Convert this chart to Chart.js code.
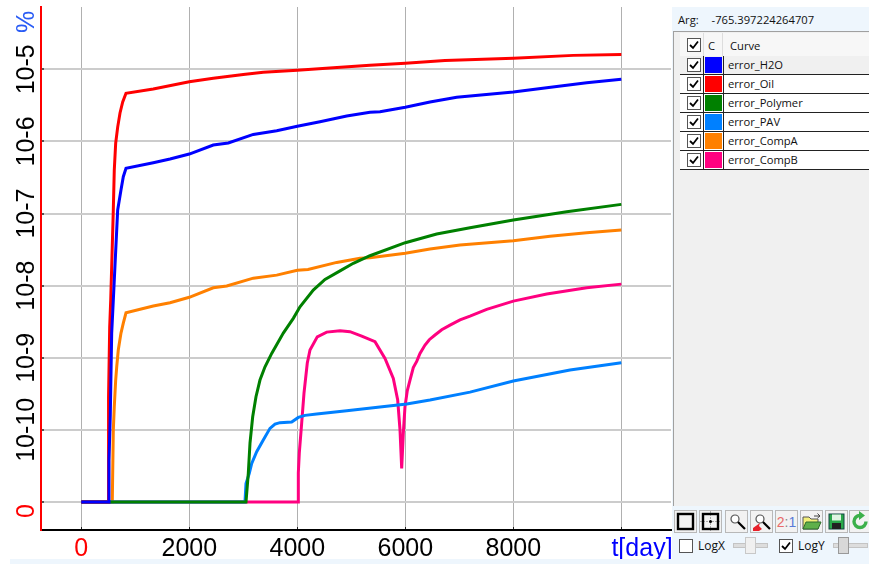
<!DOCTYPE html>
<html>
<head>
<meta charset="utf-8">
<title>error curves</title>
<script src="https://cdn.jsdelivr.net/npm/chart.js@4"></script>
<style>
  html, body { margin: 0; padding: 0; background: #fff; overflow: hidden; }
  body { width: 869px; height: 564px; position: relative; font-family: "Open Sans", sans-serif; font-size: 11.2px; color: #111; }
  #chartBox { position: absolute; left: 0; top: 0; width: 672px; height: 559px; }
  #bottomStrip { position: absolute; left: 10px; top: 559px; width: 662px; height: 5px; background: #eef6fd; }
  #panel { position: absolute; left: 672px; top: 7px; width: 197px; height: 557px; background: #eef6fd; }
  #argRow { position: absolute; left: 6px; top: 5px; white-space: nowrap; }
  #argRow span { margin-left: 10px; }
  #listBox { position: absolute; left: 1px; top: 24px; width: 196px; height: 475px; background: #f0f0f0; border-left: 1px solid #a0a0a0; border-top: 1px solid #a0a0a0; box-sizing: border-box; }
  .row { position: absolute; left: 6px; width: 190px; height: 19px; background: #fff; border-bottom: 1px solid #222; box-sizing: border-box; }
  .row.head { height: 23px; top: 1px; background: #f7f7f7; border-bottom: none; }
  .row .chk { position: absolute; left: 7px; top: 2px; }
  .row.head .chk { top: 5px; }
  .row .vline { position: absolute; top: 0; bottom: 0; width: 1px; background: #222; }
  .row.head .vline { background: #ddd; }
  .row .swatch { position: absolute; left: 25px; top: 1px; width: 17px; height: 16px; }
  .row .name { position: absolute; left: 48px; top: 1px; white-space: nowrap; }
  .chk { width: 12px; height: 12px; border: 1px solid #555; background: #fff; display: block; }
  .btn { position: absolute; top: 503px; width: 23px; height: 23px; background: #f2f2f2; border: 1px solid #b8b8b8; box-sizing: border-box; text-align: center; overflow: hidden; }
  .btn svg { display: block; }
  .lab { position: absolute; top: 530px; font-size: 12px; }
  .slider { position: absolute; top: 536px; width: 35px; height: 5px; background: #ddd; border: 1px solid #c4c4c4; box-sizing: border-box; }
  .thumb { position: absolute; top: -7px; width: 11px; height: 17px; background: #f0f0f0; border: 1px solid #c8c8c8; box-sizing: border-box; }
</style>
</head>
<body>
<div id="chartBox"><canvas id="errChart" width="672" height="559"></canvas></div>
<div id="bottomStrip"></div>
<div id="panel">
  <div id="argRow">Arg: <span>-765.397224264707</span></div>
  <div id="listBox"></div>
  <div id="tools"></div>
  <div id="logRow"></div>
</div>

<script>
// --- DATOS ---
// el "0" del eje log está dibujado en 1e-11
const curveNames = ["error_H2O", "error_Oil", "error_Polymer", "error_PAV", "error_CompA", "error_CompB"];
const curveColors = ["#0000ff", "#ff0000", "#008000", "#0080ff", "#ff8000", "#ff0080"];

const daysH2O = [0, 500, 513, 537, 563, 593, 674, 735, 778, 828, 1333, 1643, 2000, 2444, 2722, 3185, 3619, 4000, 4420, 4915, 5346, 5531, 6000, 6457, 6952, 8000, 8619, 9359, 10000];
const errH2O = [1e-11, 1e-11, 3.81e-11, 1.6e-10, 2.2e-9, 6.3e-9, 1.12e-7, 2.12e-7, 3.24e-7, 4.24e-7, 5.07e-7, 5.7e-7, 6.68e-7, 8.91e-7, 9.5e-7, 1.25e-6, 1.41e-6, 1.62e-6, 1.87e-6, 2.25e-6, 2.53e-6, 2.58e-6, 2.97e-6, 3.52e-6, 4.09e-6, 4.84e-6, 5.56e-6, 6.52e-6, 7.26e-6];

const daysOil = [0, 495, 500, 510, 526, 545, 593, 611, 637, 674, 717, 767, 828, 1333, 2000, 2444, 3000, 3370, 4000, 4667, 5346, 6000, 6735, 8000, 9111, 10000];
const errOil = [1e-11, 1e-11, 1.46e-11, 2.85e-10, 2.67e-9, 6.3e-9, 1.12e-7, 4.01e-7, 9.5e-7, 1.58e-6, 2.48e-6, 3.52e-6, 4.65e-6, 5.33e-6, 6.73e-6, 7.5e-6, 8.5e-6, 9.1e-6, 9.7e-6, 1.05e-5, 1.14e-5, 1.21e-5, 1.32e-5, 1.42e-5, 1.56e-5, 1.61e-5];

const daysPolymer = [0, 3050, 3093, 3124, 3174, 3235, 3309, 3402, 3526, 3741, 3926, 4050, 4296, 4513, 4791, 5037, 5346, 6000, 6581, 7198, 8000, 8989, 10000];
const errPolymer = [1e-11, 1e-11, 2.52e-11, 6.56e-11, 1.52e-10, 2.88e-10, 4.91e-10, 7.5e-10, 1.15e-9, 2.2e-9, 3.52e-9, 5.09e-9, 8.69e-9, 1.22e-8, 1.6e-8, 2.04e-8, 2.6e-8, 3.94e-8, 5.2e-8, 6.35e-8, 8.13e-8, 1.06e-7, 1.34e-7];

const daysPAV = [0, 3031, 3050, 3111, 3156, 3248, 3370, 3494, 3587, 3680, 3896, 4019, 4143, 4359, 4915, 5531, 6026, 6457, 7198, 8000, 9050, 10000];
const errPAV = [1e-11, 1e-11, 1.81e-11, 2.49e-11, 3.43e-11, 4.97e-11, 7.22e-11, 1.05e-10, 1.2e-10, 1.26e-10, 1.29e-10, 1.49e-10, 1.59e-10, 1.66e-10, 1.84e-10, 2.07e-10, 2.28e-10, 2.59e-10, 3.34e-10, 4.75e-10, 6.75e-10, 8.53e-10];

const daysCompA = [0, 574, 593, 611, 637, 656, 685, 735, 778, 828, 1333, 1643, 2000, 2444, 2693, 3185, 3619, 4000, 4198, 4730, 5161, 5346, 6000, 6457, 7013, 8000, 8680, 9359, 10000];
const errCompA = [1e-11, 1e-11, 9.93e-11, 2.09e-10, 4.91e-10, 7.5e-10, 1.28e-9, 2.2e-9, 3.03e-9, 4.21e-9, 5.21e-9, 5.79e-9, 6.89e-9, 9.35e-9, 9.87e-9, 1.27e-8, 1.4e-8, 1.63e-8, 1.68e-8, 2.1e-8, 2.39e-8, 2.44e-8, 2.81e-8, 3.22e-8, 3.66e-8, 4.2e-8, 4.83e-8, 5.42e-8, 5.9e-8];

const daysCompB = [0, 4019, 4019, 4037, 4081, 4124, 4185, 4235, 4370, 4544, 4791, 4976, 5193, 5439, 5624, 5778, 5859, 5902, 5933, 5963, 5994, 6037, 6087, 6148, 6211, 6272, 6365, 6444, 6550, 6674, 6828, 7013, 7198, 7507, 8000, 8619, 9359, 10000];
const errCompB = [1e-11, 1e-11, 2.52e-11, 4.77e-11, 1.24e-10, 3.24e-10, 8.45e-10, 1.28e-9, 1.95e-9, 2.27e-9, 2.37e-9, 2.3e-9, 2e-9, 1.67e-9, 9.8e-10, 5.18e-10, 2.59e-10, 1e-10, 2.92e-11, 9.03e-11, 2.09e-10, 3.5e-10, 4.91e-10, 7.3e-10, 8.9e-10, 1.15e-9, 1.5e-9, 1.78e-9, 2.07e-9, 2.45e-9, 2.84e-9, 3.35e-9, 3.78e-9, 4.69e-9, 6.11e-9, 7.64e-9, 9.35e-9, 1.05e-8];

// ticks: los que tienen texto vacío solo ponen la rejilla, "%", "0" y "t[day]" van desplazados sin rejilla
const xTickValues = [0, 2000, 4000, 6000, 8000, 10000, 10383];
const xTickLabels = ["0", "2000", "4000", "6000", "8000", "", "t[day]"];
const xNoGrid = [10383];
const yTickValues = [4.53e-5, 1e-5, 1e-6, 1e-7, 1e-8, 1e-9, 1e-10, 1e-11, 7.5e-12];
const yTickLabels = ["%", "10-5", "10-6", "10-7", "10-8", "10-9", "10-10", "", "0"];
const yNoGrid = [4.53e-5, 7.5e-12];

const allDays = [daysH2O, daysOil, daysPolymer, daysPAV, daysCompA, daysCompB];
const allErr = [errH2O, errOil, errPolymer, errPAV, errCompA, errCompB];

// --- GRÁFICA ---
function tickText(values, labels) {
    return function(value) {
        const i = values.indexOf(value);
        return i >= 0 ? labels[i] : "";
    };
}

function setTicks(values) {
    return function(scale) {
        scale.ticks = values.map(v => ({ value: v }));
    };
}

function fixBox(scale, size) {
    // tamaño fijo para que el área de dibujo caiga donde en la imagen
    if (scale.axis === "x") scale.height = size; else scale.width = size;
    scale.paddingLeft = scale.paddingRight = scale.paddingTop = scale.paddingBottom = 0;
}

const tickFont = { family: "'Liberation Sans', Arial, sans-serif", size: 25 };

new Chart(document.getElementById("errChart"), {
    type: "line",
    data: {
        datasets: curveNames.map((name, i) => ({
            label: name,
            data: allDays[i].map((d, j) => ({ x: d, y: allErr[i][j] })),
            borderColor: curveColors[i],
            borderWidth: 3,
            pointRadius: 0,
            tension: 0,
            fill: false
        }))
    },
    options: {
        responsive: false,
        animation: false,
        layout: { padding: { top: 7, right: 1, left: 0, bottom: 0 } },
        plugins: { legend: { display: false }, tooltip: { enabled: false } },
        scales: {
            x: {
                type: "linear",
                min: -746,
                max: 10920,
                afterBuildTicks: setTicks(xTickValues),
                afterFit: s => fixBox(s, 29),
                border: { color: "#000", width: 2 },
                grid: {
                    color: c => xNoGrid.includes(c.tick.value) ? "rgba(0,0,0,0)" : "#b0b0b0",
                    tickColor: c => xNoGrid.includes(c.tick.value) ? "rgba(0,0,0,0)" : "#222",
                    tickLength: -3,
                    lineWidth: 1
                },
                ticks: {
                    autoSkip: false,
                    maxRotation: 0,
                    padding: 7,
                    font: tickFont,
                    color: c => c.tick.value === 0 ? "#ff0000" : (c.tick.value === 10383 ? "#0000ff" : "#000"),
                    callback: tickText(xTickValues, xTickLabels)
                }
            },
            y: {
                type: "logarithmic",
                min: 4.09e-12,
                max: 7.31e-5,
                afterBuildTicks: setTicks(yTickValues),
                afterFit: s => fixBox(s, 41),
                border: { color: "#ff0000", width: 2 },
                grid: {
                    color: c => yNoGrid.includes(c.tick.value) ? "rgba(0,0,0,0)" : "#cccccc",
                    tickColor: c => yNoGrid.includes(c.tick.value) ? "rgba(0,0,0,0)" : "#555",
                    tickLength: -3,
                    lineWidth: 2
                },
                ticks: {
                    autoSkip: false,
                    minRotation: 90,
                    maxRotation: 90,
                    crossAlign: "center",
                    padding: -15,
                    font: tickFont,
                    color: c => c.tick.value === 4.53e-5 ? "#2a5cf5" : (c.tick.value === 7.5e-12 ? "#ff0000" : "#000"),
                    callback: tickText(yTickValues, yTickLabels)
                }
            }
        }
    }
});

// --- PANEL DERECHO ---
const CHECK = '<svg class="chk" viewBox="0 0 12 12" width="12" height="12"><path d="M2 6 L5 9 L10 2.5" fill="none" stroke="#000" stroke-width="1.8"/></svg>';
const EMPTY = '<svg class="chk" viewBox="0 0 12 12" width="12" height="12"></svg>';

let html = '<div class="row head">' + CHECK +
    '<div class="vline" style="left:23px"></div><div class="vline" style="left:42px"></div>' +
    '<div style="position:absolute;left:28px;top:5px">C</div><div style="position:absolute;left:50px;top:5px">Curve</div></div>';
curveNames.forEach((name, i) => {
    html += '<div class="row" style="top:' + (24 + i * 19) + 'px' + (i === 0 ? ';background:#f0f0f0' : '') + '">' + CHECK +
        '<div class="vline" style="left:23px"></div><div class="vline" style="left:43px"></div>' +
        '<div class="swatch" style="background:' + curveColors[i] + '"></div>' +
        '<div class="name">' + name + '</div></div>';
});
document.getElementById("listBox").innerHTML = html;

const glass = '<circle cx="9" cy="8" r="4" fill="#fff" stroke="#555" stroke-width="1.2"/><path d="M12 11 L19 18" stroke="#000" stroke-width="2.2"/>';
const toolIcons = [
    '<rect x="3" y="3" width="15" height="15" fill="none" stroke="#000" stroke-width="2.4"/>',
    '<path d="M0 10.5H21M10.5 0V21" stroke="#aaa" stroke-width="1" stroke-dasharray="2 1"/><rect x="3" y="3" width="15" height="15" fill="none" stroke="#000" stroke-width="2.4"/><circle cx="10.5" cy="10.5" r="1.5" fill="#000"/>',
    glass,
    glass + '<path d="M2 17 L9 12 L8 15 L11 18 L8 20 L2 20Z" fill="#e8202a"/>',
    '<text x="10.5" y="15.5" text-anchor="middle" font-family="Liberation Sans" font-size="14"><tspan fill="#e86a6a">2</tspan><tspan fill="#888">:</tspan><tspan fill="#5a7ad8">1</tspan></text>',
    '<path d="M2 6H8L10 8H17V18H2Z" fill="#f3ef7a" stroke="#555" stroke-width="1"/><path d="M2 18L5 11H20L17 18Z" fill="#5fb04a" stroke="#2d6b2a" stroke-width="1"/><path d="M13 5H19M19 5L16.5 2.5M19 5L16.5 7" stroke="#444" fill="none"/>',
    '<rect x="3" y="3" width="15" height="15" fill="#2aa84a" stroke="#144" stroke-width="1"/><rect x="6" y="3.5" width="9" height="6" fill="#dff5e2"/><rect x="6" y="12" width="9" height="6" fill="#222"/>',
    '<path d="M16 10.5A6 6 0 1 1 10 4.5" fill="none" stroke="#3cb04a" stroke-width="3.4"/><path d="M9 0L15 4.5L9 9Z" fill="#3cb04a"/>'
];
const toolLeft = [2, 27, 53, 78, 103, 128, 153, 177];
document.getElementById("tools").innerHTML = toolIcons.map((svg, i) =>
    '<div class="btn" style="left:' + toolLeft[i] + 'px"><svg width="21" height="21" viewBox="0 0 21 21">' + svg + '</svg></div>').join("");

document.getElementById("logRow").innerHTML =
    '<div style="position:absolute;left:7px;top:532px">' + EMPTY + '</div>' +
    '<div class="lab" style="left:26px">LogX</div>' +
    '<div class="slider" style="left:61px"><div class="thumb" style="left:11px"></div></div>' +
    '<div style="position:absolute;left:107px;top:532px">' + CHECK + '</div>' +
    '<div class="lab" style="left:126px">LogY</div>' +
    '<div class="slider" style="left:161px"><div class="thumb" style="left:4px;background:#d8d8d8;border-color:#999"></div></div>';
</script>
</body>
</html>
